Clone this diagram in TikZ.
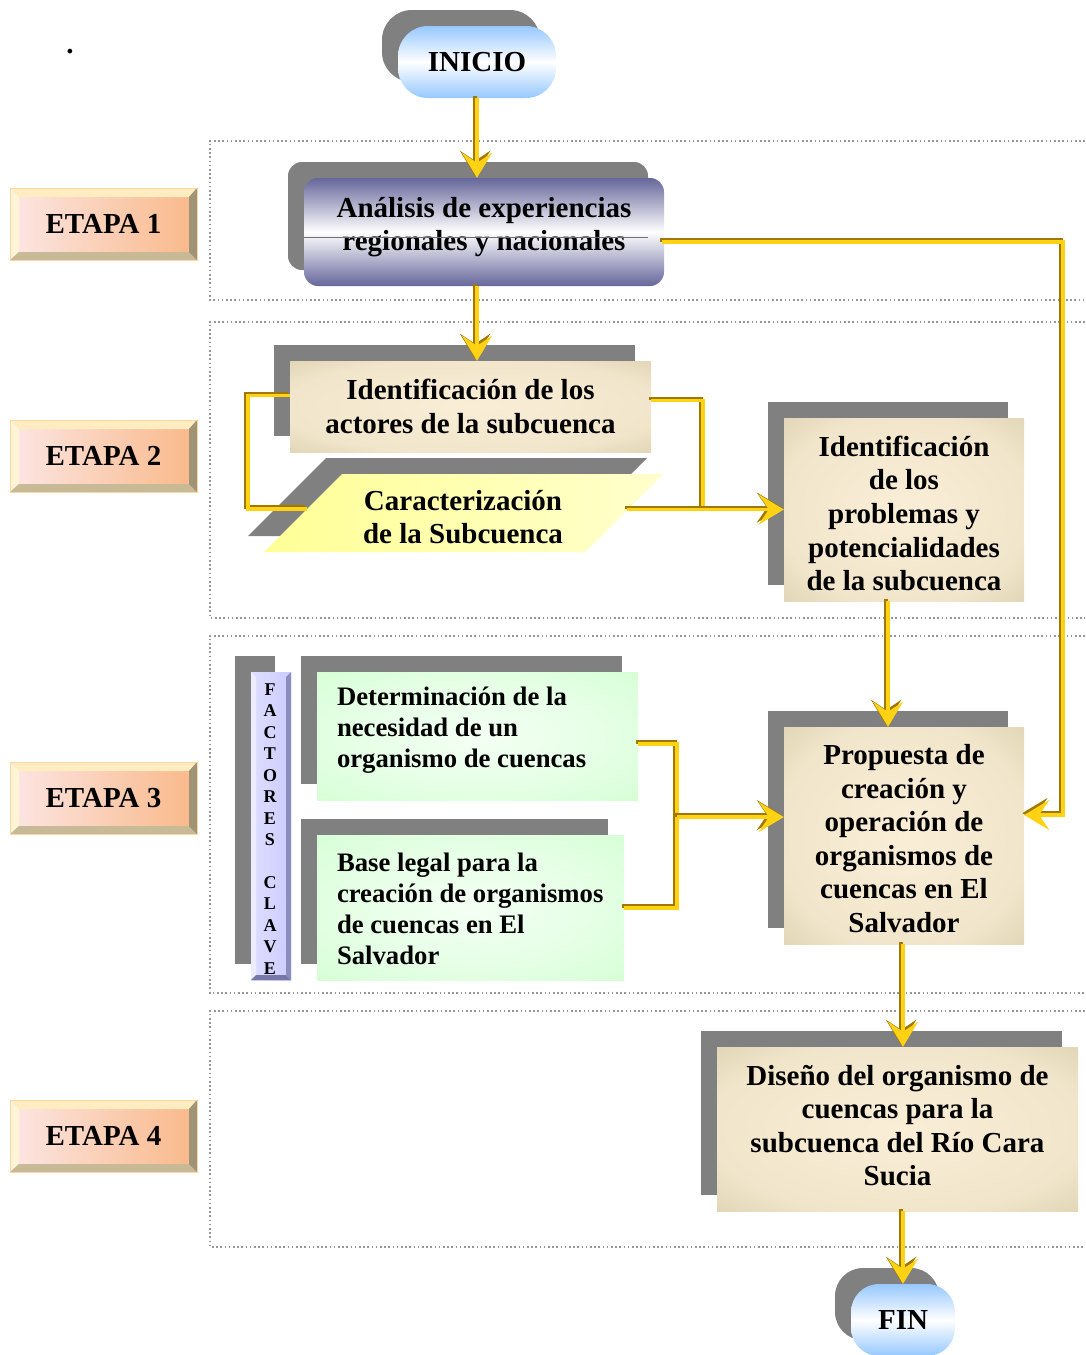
\documentclass[tikz,border=0pt]{standalone}
\usepackage{fontspec}
\setmainfont{Liberation Serif}
\usetikzlibrary{arrows.meta,calc,shadows}

\definecolor{shadowgray}{RGB}{128,128,128}
\definecolor{golddark}{RGB}{160,120,0}
\definecolor{goldlight}{RGB}{255,210,20}
\definecolor{slate}{RGB}{102,102,155}
\definecolor{skyblue}{RGB}{150,200,255}
\definecolor{tancream}{RGB}{250,238,215}
\definecolor{tanedge}{RGB}{204,192,154}
\definecolor{mint}{RGB}{204,255,204}
\definecolor{mintlight}{RGB}{244,255,244}
\definecolor{paleyellow}{RGB}{255,255,150}
\definecolor{paleyellowlight}{RGB}{255,255,205}
\definecolor{lavender}{RGB}{204,204,255}
\definecolor{lavenderlight}{RGB}{222,222,255}
\definecolor{peachpink}{RGB}{252,230,228}
\definecolor{peachorange}{RGB}{249,184,136}
\definecolor{etapaborder}{RGB}{255,214,160}
\definecolor{dotgray}{RGB}{150,150,150}

\pgfdeclareradialshading{tanglow}{\pgfpointorigin}{color(0bp)=(tancream); color(26bp)=(tancream!80!tanedge); color(50bp)=(tanedge); color(72bp)=(tanedge!92!black)}
\pgfdeclareradialshading{mintglow}{\pgfpointorigin}{color(0bp)=(mintlight); color(22bp)=(mintlight!60!mint); color(46bp)=(mint); color(72bp)=(mint)}

\tikzset{
  every node/.style={font=\bfseries\fontsize{29}{33.6}\selectfont, inner sep=0pt},
  boxshadow/.style={general shadow={shadow xshift=-16pt, shadow yshift=16pt, fill=shadowgray}},
  pill/.style={shape=rectangle, top color=skyblue, bottom color=skyblue, middle color=white, boxshadow},
  slatebox/.style={shape=rectangle, rounded corners=14pt, top color=slate, bottom color=slate, middle color=white, boxshadow, align=center},
  tanbox/.style={shape=rectangle, shading=tanglow, boxshadow, align=center},
  greenbox/.style={shape=rectangle, shading=mintglow, boxshadow},
  greentext/.style={font=\bfseries\fontsize{26.7}{31}\selectfont, align=left, anchor=west},
  stageframe/.style={draw=dotgray, line width=1.6pt, dash pattern=on 1.6pt off 2.6pt},
  flowline/.style={line width=3.4pt, draw=goldlight,
    preaction={draw=golddark, line width=3.4pt, transform canvas={shift={(-1.9pt,1.9pt)}}}},
  flow/.style={flowline, -{Stealth[length=25pt,width=30pt,inset=10pt]}},
  etapa/.style={shape=rectangle, minimum width=187pt, minimum height=72pt,
    left color=peachpink, right color=peachorange, draw=etapaborder, line width=0.8pt,
    path picture={
      \fill[color={rgb,255:red,255;green,236;blue,192}]
        (path picture bounding box.north west) -- (path picture bounding box.north east)
        -- ([shift={(-8pt,-9pt)}]path picture bounding box.north east)
        -- ([shift={(9pt,-9pt)}]path picture bounding box.north west) -- cycle;
      \fill[color={rgb,255:red,255;green,244;blue,214}]
        (path picture bounding box.north west) -- ([shift={(9pt,-9pt)}]path picture bounding box.north west)
        -- ([shift={(9pt,8pt)}]path picture bounding box.south west)
        -- (path picture bounding box.south west) -- cycle;
      \fill[color={rgb,255:red,200;green,186;blue,150}]
        (path picture bounding box.south west) -- (path picture bounding box.south east)
        -- ([shift={(-8pt,8pt)}]path picture bounding box.south east)
        -- ([shift={(9pt,8pt)}]path picture bounding box.south west) -- cycle;
      \fill[color={rgb,255:red,160;green,148;blue,118}]
        (path picture bounding box.north east) -- (path picture bounding box.south east)
        -- ([shift={(-8pt,8pt)}]path picture bounding box.south east)
        -- ([shift={(-8pt,-9pt)}]path picture bounding box.north east) -- cycle;
    }},
  factbox/.style={shape=rectangle, minimum width=40pt, minimum height=308pt,
    left color=lavenderlight, right color=lavender, boxshadow, align=center,
    font=\bfseries\fontsize{18}{21.45}\selectfont,
    path picture={
      \fill[color={rgb,255:red,236;green,236;blue,255}]
        (path picture bounding box.north west) -- ([shift={(5pt,-5pt)}]path picture bounding box.north west)
        -- ([shift={(5pt,5pt)}]path picture bounding box.south west)
        -- (path picture bounding box.south west) -- cycle;
      \fill[color={rgb,255:red,140;green,140;blue,190}]
        (path picture bounding box.north east) -- (path picture bounding box.south east)
        -- ([shift={(-5pt,5pt)}]path picture bounding box.south east)
        -- ([shift={(-5pt,-5pt)}]path picture bounding box.north east) -- cycle;
      \fill[color={rgb,255:red,120;green,120;blue,168}]
        (path picture bounding box.south west) -- (path picture bounding box.south east)
        -- ([shift={(-5pt,5pt)}]path picture bounding box.south east)
        -- ([shift={(5pt,5pt)}]path picture bounding box.south west) -- cycle;
    }},
}

\begin{document}
\begin{tikzpicture}[x=1pt, y=-1pt]
\useasboundingbox (0,0) rectangle (1085,1355);

% stage frames, open on the right
\foreach \ya/\yb in {141/300, 322/618, 636/993, 1011/1247}{
  \draw[stageframe] (1085,\ya) -- (210,\ya) -- (210,\yb) -- (1085,\yb);
}

\node (dot) at (70,52) {.};

% stage labels
\foreach \yc/\num in {224/1, 456/2, 798/3, 1136/4}{
  \node[etapa] (etapa\num) at (103.5,\yc) {ETAPA \num};
}

% start
\node[pill, minimum width=158pt, minimum height=72pt, rounded corners=30pt] (inicio) at (477,62) {INICIO};

% stage 1
\node[slatebox, minimum width=360pt, minimum height=108pt] (analisis) at (484,232) {};
\node[align=center] (analisistext) at (484,227) {An\'alisis de experiencias\\regionales y nacionales};
\draw[color={rgb,255:red,110;green,110;blue,110}, line width=0.7pt] (304,237) -- (648,237);

% stage 2
\node[tanbox, minimum width=361pt, minimum height=91pt] (actores) at (470.5,406.5)
  {Identificaci\'on de los\\actores de la subcuenca};

\fill[shadowgray] (326,458) -- (647,458) -- (569,536) -- (248,536) -- cycle;
\shade[left color=paleyellow, right color=paleyellowlight] (342,474) -- (663,474) -- (585,552) -- (264,552) -- cycle;
\node[align=center] (carac) at (463,517) {Caracterizaci\'on\\de la Subcuenca};

\node[tanbox, minimum width=240pt, minimum height=183pt] (problemas) at (904,509.5) {};
\node[align=center] (problemastext) at (904,513.5)
  {Identificaci\'on\\de los\\problemas y\\potencialidades\\de la subcuenca};

% stage 3
\node[factbox] (factores) at (271,826) {};
\node[align=center, font=\bfseries\fontsize{18}{21.45}\selectfont] (factorestext) at (270,829)
  {F\\A\\C\\T\\O\\R\\E\\S\\[21.45pt]C\\L\\A\\V\\E};

\node[greenbox, minimum width=321pt, minimum height=128pt] (det) at (477.5,736) {};
\node[greentext] (dettext) at ($(det.west)+(20,-6)$)
  {Determinaci\'on de la\\necesidad de un\\organismo de cuencas};

\node[greenbox, minimum width=307pt, minimum height=145pt] (base) at (470.5,907.5) {};
\node[greentext] (basetext) at ($(base.west)+(20,1)$)
  {Base legal para la\\creaci\'on de organismos\\de cuencas en El\\Salvador};

\node[tanbox, minimum width=240pt, minimum height=217pt] (propuesta) at (904,835.5) {};
\node[align=center] (propuestatext) at (904,838.5)
  {Propuesta de\\creaci\'on y\\operaci\'on de\\organismos de\\cuencas en El\\Salvador};

% stage 4
\node[tanbox, minimum width=361pt, minimum height=164pt] (diseno) at (897.5,1129) {};
\node[align=center] (disenotext) at (897.5,1125.5)
  {Dise\~no del organismo de\\cuencas para la\\subcuenca del R\'io Cara\\Sucia};

% end
\node[pill, minimum width=104pt, minimum height=72pt, rounded corners=28pt] (fin) at (903,1320) {FIN};

% connectors
\coordinate (loopL) at (248,509);
\coordinate (caracW) at (307,509);
\coordinate (caracE) at (627,509.5);
\coordinate (joinA) at (703,509.5);
\coordinate (joinB) at (677,817);
\coordinate (joinC) at (677,908);
\coordinate (eastturn) at (1063,815);

\draw[flow] (inicio.south) -- (inicio.south |- analisis.north);
\draw[flow] (inicio.south |- analisis.south) -- (inicio.south |- actores.north);
\draw[flow] ($(analisis.east)+(-2,10)$) -| (eastturn) -- (eastturn -| propuesta.east);

\draw[flowline] ($(actores.west)+(0,-11)$) -| (loopL) -- (caracW);
\draw[flowline] ($(actores.east)+(0,-6)$) -| (joinA);
\draw[flow] (caracE) -- (caracE -| problemas.west);

\draw[flow] ($(problemas.south)+(-16,0)$) -- ($(propuesta.north)+(-16,0)$);

\draw[flowline] ($(det.east)+(0,8)$) -| (joinC) -- (joinC -| base.east);
\draw[flow] (joinB) -- (joinB -| propuesta.west);

\draw[flow] ($(propuesta.south)+(-1,0)$) -- ($(propuesta.south |- diseno.north)+(-1,0)$);
\draw[flow] (fin.north |- diseno.south) -- (fin.north);
\end{tikzpicture}
\end{document}
